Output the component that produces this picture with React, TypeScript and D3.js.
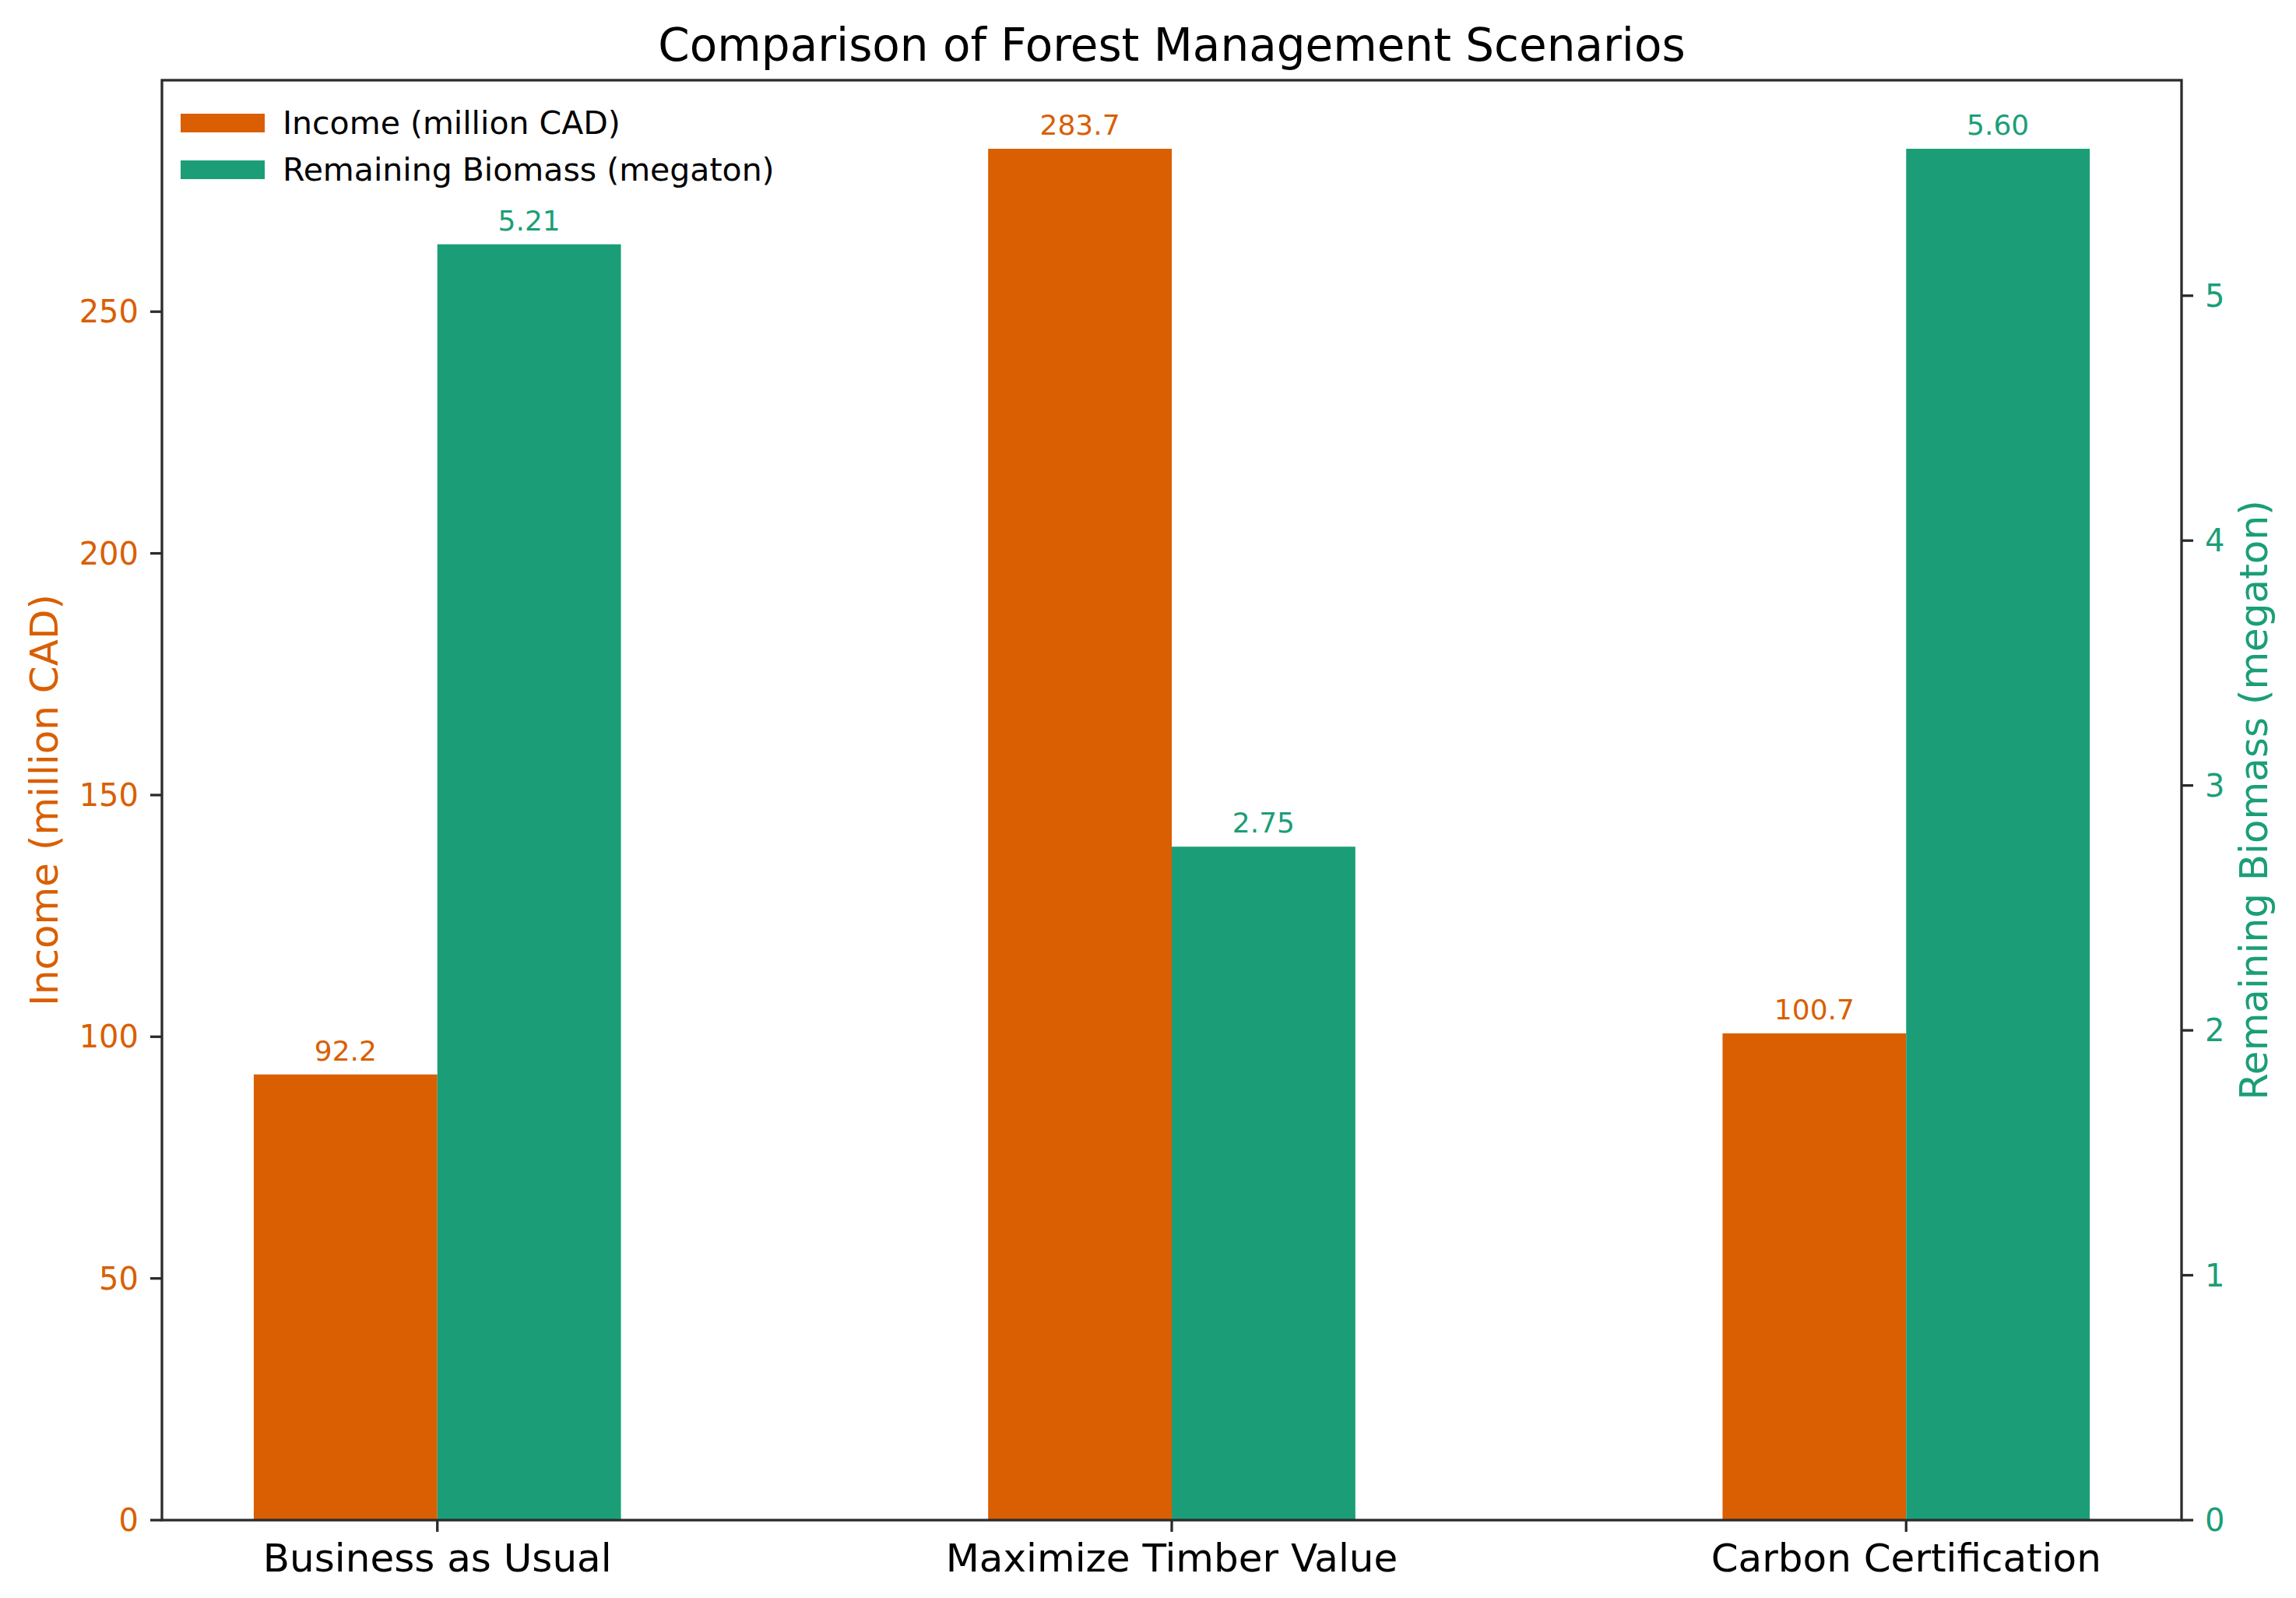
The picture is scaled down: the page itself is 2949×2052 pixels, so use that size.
import React from "react";
import * as d3 from "d3";

const categories = ["Business as Usual", "Maximize Timber Value", "Carbon Certification"];
const income = [92.2, 283.7, 100.7]; // million CAD
const biomass = [5.21, 2.75, 5.6]; // megaton
const incomeTicks = [0, 50, 100, 150, 200, 250];
const biomassTicks = [0, 1, 2, 3, 4, 5];

const ORANGE = "#d95f02";
const GREEN = "#1b9e77";
const FONT = "DejaVu Sans, sans-serif";

const App: React.FC = () => {
  const width = 2949;
  const height = 2052;
  const margin = { top: 103, right: 147, bottom: 100, left: 208 };
  const barW = 0.25;

  const plotLeft = margin.left;
  const plotRight = width - margin.right;
  const plotTop = margin.top;
  const plotBottom = height - margin.bottom;

  // matplotlib-like 5% margins
  const x = d3
    .scaleLinear()
    .domain([-0.375, categories.length - 1 + 0.375])
    .range([plotLeft, plotRight]);

  const yL = d3
    .scaleLinear()
    .domain([0, d3.max(income)! * 1.05])
    .range([plotBottom, plotTop]);

  const yR = d3
    .scaleLinear()
    .domain([0, d3.max(biomass)! * 1.05])
    .range([plotBottom, plotTop]);

  const tickLen = 15;
  const tickPad = 15;
  const axisColor = "#2b2b2b";
  const midY = (plotTop + plotBottom) / 2;

  return (
    <div style={{ position: "absolute", left: 0, top: 0 }}>
      <svg width={width} height={height} style={{ display: "block", background: "#fff" }} fontFamily={FONT}>
        {/* Title */}
        <text x={(plotLeft + plotRight) / 2} y={78} textAnchor="middle" fontSize={58} fill="#000">
          Comparison of Forest Management Scenarios
        </text>

        {/* Bars */}
        {categories.map((c, i) => (
          <g key={c}>
            <rect
              x={x(i - barW)}
              y={yL(income[i])}
              width={x(i) - x(i - barW)}
              height={yL(0) - yL(income[i])}
              fill={ORANGE}
            />
            <rect
              x={x(i)}
              y={yR(biomass[i])}
              width={x(i + barW) - x(i)}
              height={yR(0) - yR(biomass[i])}
              fill={GREEN}
            />
            <text
              x={x(i - barW / 2)}
              y={yL(income[i]) - 18}
              textAnchor="middle"
              fontSize={36}
              fill={ORANGE}
            >
              {income[i].toFixed(1)}
            </text>
            <text
              x={x(i + barW / 2)}
              y={yR(biomass[i]) - 18}
              textAnchor="middle"
              fontSize={36}
              fill={GREEN}
            >
              {biomass[i].toFixed(2)}
            </text>
          </g>
        ))}

        {/* Spines */}
        <rect
          x={plotLeft}
          y={plotTop}
          width={plotRight - plotLeft}
          height={plotBottom - plotTop}
          fill="none"
          stroke={axisColor}
          strokeWidth={3.3}
        />

        {/* Left axis */}
        {incomeTicks.map((t) => (
          <g key={`l${t}`}>
            <line x1={plotLeft - tickLen} x2={plotLeft} y1={yL(t)} y2={yL(t)} stroke={axisColor} strokeWidth={3.3} />
            <text
              x={plotLeft - tickLen - tickPad}
              y={yL(t)}
              textAnchor="end"
              dominantBaseline="central"
              fontSize={40}
              fill={ORANGE}
            >
              {t}
            </text>
          </g>
        ))}

        {/* Right axis */}
        {biomassTicks.map((t) => (
          <g key={`r${t}`}>
            <line x1={plotRight} x2={plotRight + tickLen} y1={yR(t)} y2={yR(t)} stroke={axisColor} strokeWidth={3.3} />
            <text
              x={plotRight + tickLen + tickPad}
              y={yR(t)}
              textAnchor="start"
              dominantBaseline="central"
              fontSize={40}
              fill={GREEN}
            >
              {t}
            </text>
          </g>
        ))}

        {/* Bottom axis */}
        {categories.map((c, i) => (
          <g key={`b${c}`}>
            <line x1={x(i)} x2={x(i)} y1={plotBottom} y2={plotBottom + tickLen} stroke={axisColor} strokeWidth={3.3} />
            <text x={x(i)} y={2018} textAnchor="middle" fontSize={50} fill="#000">
              {c}
            </text>
          </g>
        ))}

        {/* Axis labels */}
        <text
          transform={`translate(74,${midY}) rotate(-90)`}
          textAnchor="middle"
          fontSize={50}
          fill={ORANGE}
        >
          Income (million CAD)
        </text>
        <text
          transform={`translate(2912,${midY}) rotate(-90)`}
          textAnchor="middle"
          fontSize={50}
          fill={GREEN}
        >
          Remaining Biomass (megaton)
        </text>

        {/* Legend */}
        {[
          { label: "Income (million CAD)", color: ORANGE },
          { label: "Remaining Biomass (megaton)", color: GREEN },
        ].map((d, i) => (
          <g key={d.label} transform={`translate(232,${146 + i * 60})`}>
            <rect x={0} y={0} width={108} height={24} fill={d.color} />
            <text x={131} y={12} dominantBaseline="central" fontSize={41} fill="#000">
              {d.label}
            </text>
          </g>
        ))}
      </svg>
    </div>
  );
};

export default App;
